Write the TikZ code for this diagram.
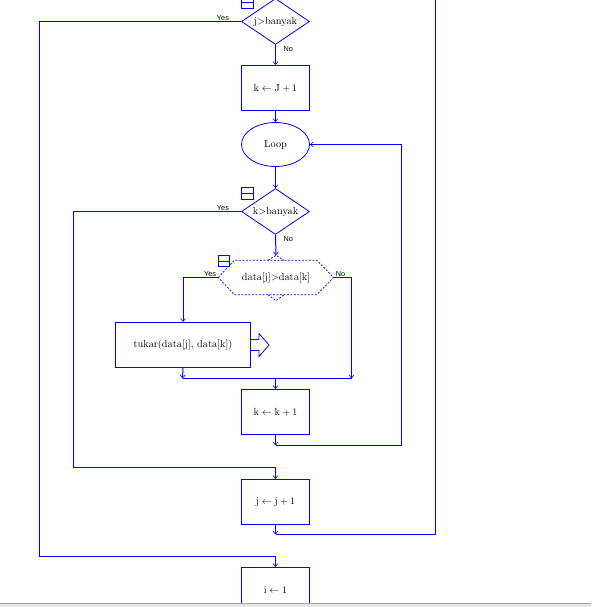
\documentclass[tikz,border=0pt]{standalone}
\usepackage{fontspec}
\newfontfamily\lblfont{Liberation Sans}
\usetikzlibrary{arrows.meta,shapes.geometric}
\definecolor{lineblue}{RGB}{0,0,255}
\begin{document}
\begin{tikzpicture}[x=1pt,y=-1pt,
  flow/.style={draw, color=lineblue, line width=1pt},
  arr/.style={flow, -{Straight Barb[length=3pt,width=5pt,line width=0.6pt]}},
  proc/.style={rectangle, draw, color=lineblue, line width=1pt, minimum width=68pt, minimum height=45pt, inner sep=0pt},
  dec/.style={diamond, draw, color=lineblue, line width=0.8pt, minimum width=68pt, minimum height=46pt, inner sep=0pt, aspect=1.48},
  txt/.style={inner sep=0pt, text=black, font=\fontsize{10.3}{12}\selectfont},
  lbl/.style={font=\lblfont\fontsize{7.3}{8}\selectfont, text=black, inner sep=1pt},
  icon/.style={rectangle, draw, color=lineblue, line width=0.8pt, minimum width=12pt, minimum height=11pt, inner sep=0pt,
    path picture={\draw[color=lineblue, line width=0.8pt] (path picture bounding box.west) -- (path picture bounding box.east);}},
  hexline/.style={draw, color=lineblue, line width=0.7pt, dash pattern=on 2pt off 1.5pt},
  blockarr/.style={draw, color=lineblue, line width=0.8pt, fill=white}
]
\useasboundingbox (0,0) rectangle (591,607);
\begin{scope}
\clip (0,0) rectangle (591,603);
\begin{scope}[shift={(0.5,0.5)}]
% shapes (no text yet)
\node[dec] (d1) at (275,21) {};
\node[icon] (ic1) at (247,2) {};
\node[proc] (b1) at (275,87.5) {};
\node[ellipse, draw, color=lineblue, line width=0.8pt, minimum width=68pt, minimum height=44pt, inner sep=0pt] (loop) at (275,144) {};
\node[dec] (d2) at (275,211) {};
\node[icon, minimum height=12pt] (ic2) at (247,193) {};
\node[minimum width=115pt, minimum height=34pt, inner sep=0pt] (hex) at (275.5,277) {};
\node[icon, minimum width=11pt] (ic3) at (223,260.5) {};
\node[proc, minimum width=135pt] (tukar) at (182.5,344.5) {};
\node[proc] (k2) at (275,411.5) {};
\node[proc] (jb) at (275,501.5) {};
\node[proc] (ib) at (275,589.5) {};

% hexagon outline
\draw[hexline] (hex.west) -- ([xshift=16pt]hex.north west) -- ([xshift=-17pt]hex.north east) -- (hex.east)
  -- ([xshift=-17pt]hex.south east) -- ([xshift=16pt]hex.south west) -- cycle;
\coordinate (hextop) at ([yshift=5pt]hex.north);
\draw[hexline] ([xshift=-8pt]hex.north) -- (hextop) -- ([xshift=8pt]hex.north);
\draw[hexline] ([xshift=-8pt]hex.south) -- ([yshift=-6pt]hex.south) -- ([xshift=8pt]hex.south);

% block arrow on tukar
\draw[blockarr] (tukar.east) ++(0,-5.5) -- ++(8,0) -- ++(0,-6) -- ++(10,11.5) -- ++(-10,11.5) -- ++(0,-6) -- ++(-8,0);

% coordinates
\coordinate (m1) at (182,378);
\coordinate (m2) at (351,378);
\coordinate (mc) at (275,378);
\coordinate (kb) at (275,445);
\coordinate (jbb) at (275,534);
\coordinate (topin) at (275,-8);
\coordinate (topout) at (435,-5);

% connectors
\draw[arr] (topin) -- (d1.north);
\draw[arr] (d1.west) -- (39,21) -- (39,556) -| (ib.north);
\draw[arr] (d1.south) -- (b1.north);
\draw[arr] (b1.south) -- (loop.north);
\draw[arr] (loop.south) -- (d2.north);
\draw[arr] (d2.west) -- (73,211) -- (73,467) -| (jb.north);
\draw[arr] (d2.south) -- (hextop);
\draw[arr] (hex.west) -| (tukar.north);
\draw[arr] (hex.east) -| (m2);
\draw[arr] (tukar.south) -- (m1);
\draw[flow] (m1) -- (m2);
\draw[arr] (mc) -- (k2.north);
\draw[arr] (k2.south) -- (kb);
\draw[arr] (kb) -- (401,445) -- (401,144) -- (loop.east);
\draw[arr] (jb.south) -- (jbb);
\draw[flow] (jbb) -- (435,534) -- (topout);

% texts last
\node[txt] (d1t) at (d1.center) {j>banyak};
\node[txt] (b1t) at (b1.center) {$\mathrm{k}\leftarrow\mathrm{J}+1$};
\node[txt] (loopt) at (loop.center) {Loop};
\node[txt] (d2t) at (d2.center) {k>banyak};
\node[txt] (hext) at (hex.center) {data[j]>data[k]};
\node[txt] (tukart) at (tukar.center) {tukar(data[j], data[k])};
\node[txt] (k2t) at (k2.center) {$\mathrm{k}\leftarrow\mathrm{k}+1$};
\node[txt] (jbt) at (jb.center) {$\mathrm{j}\leftarrow\mathrm{j}+1$};
\node[txt] (ibt) at (ib.center) {$\mathrm{i}\leftarrow1$};
\node[lbl, anchor=south east] (y1) at ([xshift=-11pt]d1.west) {Yes};
\node[lbl, anchor=north west] (n1) at ([xshift=7pt,yshift=-0.5pt]d1.south) {No};
\node[lbl, anchor=south east] (y2) at ([xshift=-11pt]d2.west) {Yes};
\node[lbl, anchor=north west] (n2) at ([xshift=7pt,yshift=-0.5pt]d2.south) {No};
\node[lbl, anchor=south east] (y3) at ([xshift=-1pt]hex.west) {Yes};
\node[lbl, anchor=south west] (n3) at ([xshift=1pt]hex.east) {No};
\end{scope}
\end{scope}
\fill[gray!20] (0,603) rectangle (591,607);
\draw[gray!70, line width=1pt] (0,603.5) -- (591,603.5);
\end{tikzpicture}
\end{document}
